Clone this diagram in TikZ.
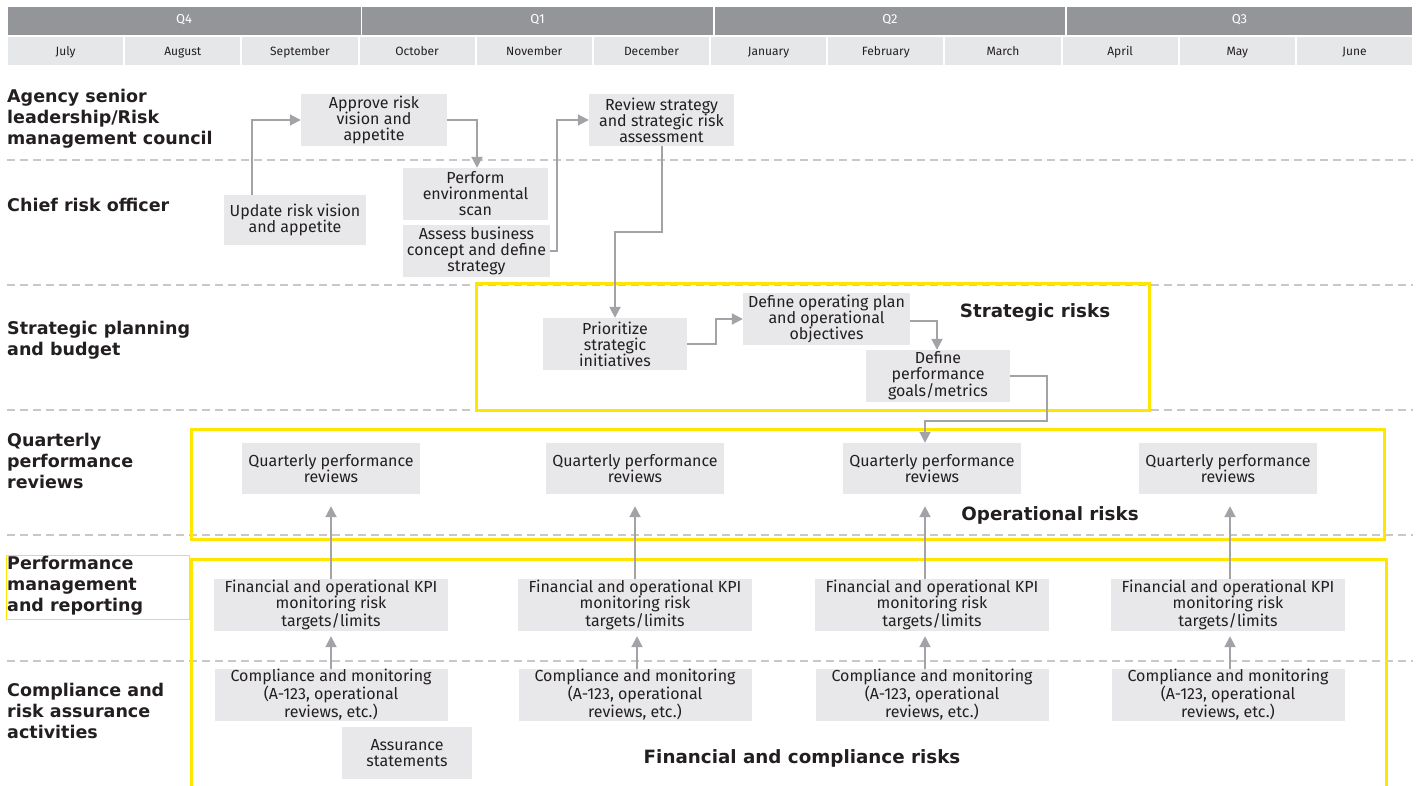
\documentclass[tikz,border=0pt]{standalone}
\usepackage{fontspec}
\setmainfont{Fira Sans}
\newfontfamily\lanefont{DejaVu Sans}
\usetikzlibrary{arrows.meta}
\definecolor{hdr}{HTML}{939598}
\definecolor{mon}{HTML}{E6E7E8}
\definecolor{boxg}{HTML}{E8E8EA}
\definecolor{txt}{HTML}{231F20}
\definecolor{arr}{HTML}{A2A3A6}
\definecolor{eyy}{HTML}{FFE600}
\definecolor{sepc}{HTML}{C8C8CA}
\begin{document}
\begin{tikzpicture}[x=1pt,y=-1pt,
  box/.style={fill=boxg, inner sep=0pt, align=center, text=txt, font=\fontsize{16}{16}\selectfont},
  lane/.style={anchor=west, align=left, text=txt, font=\lanefont\fontsize{17.5}{21}\selectfont\bfseries, inner sep=0pt},
  conn/.style={draw=arr, line width=2pt, -{Triangle[length=11pt,width=11pt]}},
  sepline/.style={draw=sepc, line width=1.5pt, dash pattern=on 8pt off 5pt},
  risk/.style={draw=eyy, line width=3pt},
  risklbl/.style={text=txt, font=\lanefont\fontsize{18.3}{22}\selectfont\bfseries, inner sep=0pt},
  qcell/.style={fill=hdr, text=white, font=\fontsize{13}{14}\selectfont, inner sep=0pt, minimum height=28, text height=8pt, text depth=3pt},
  mcell/.style={fill=mon, text=txt, font=\fontsize{12}{13}\selectfont, inner sep=0pt, minimum height=28, text height=12pt, text depth=3pt}]
\useasboundingbox (0,0) rectangle (1420,786);
\fill[white] (0,0) rectangle (1420,786);

% header
\node[qcell, minimum width=353] (q4) at (184,21) {Q4};
\node[qcell, minimum width=351] (q1) at (537.5,21) {Q1};
\node[qcell, minimum width=350] (q2) at (890,21) {Q2};
\node[qcell, minimum width=345] (q3) at (1239.5,21) {Q3};
\foreach \i/\m in {0/July,1/August,2/September,3/October,4/November,5/December,6/January,7/February,8/March,9/April,10/May,11/June}{
  \node[mcell, minimum width=115.2] (m\i) at ({7+117.17*(\i+0.5)},51) {\m};
}

% separators
\foreach \y in {160,285,410,535,661}{
  \draw[sepline] (7,\y) -- (1413,\y);
}

% lane labels
\node[lane] (l1) at (7,119) {Agency senior\\leadership/Risk\\management council};
\node[lane] (l2) at (7,205) {Chief risk officer};
\node[lane] (l3) at (7,340) {Strategic planning\\and budget};
\node[lane] (l4) at (7,461) {Quarterly\\performance\\reviews};
\node[draw=eyy, line width=1.2pt, anchor=north west, minimum width=183, minimum height=64, inner sep=0pt] (pmframe) at (6,555) {};
\node[lane] (l5) at (7,586) {Performance\\management\\and reporting};
\node[lane] (l6) at (7,711) {Compliance and\\risk assurance\\activities};

% risk areas
\draw[risk] (476,283) rectangle (1149,410);
\node[risklbl] (srl) at (1035,313) {Strategic risks};
\draw[risk] (191,429) rectangle (1384,539);
\node[risklbl] (orl) at (1050,515) {Operational risks};
\draw[risk] (191,800) -- (191,559) -- (1386,559) -- (1386,800);
\node[risklbl] (frl) at (802,758) {Financial and compliance risks};

% boxes
\node[box, minimum width=146, minimum height=52] (appr) at (374,120) {Approve risk\\vision and\\appetite};
\node[box, minimum width=142, minimum height=50] (upd) at (295,220) {Update risk vision\\and appetite};
\node[box, minimum width=145, minimum height=52] (scan) at (475.5,194) {Perform\\environmental\\scan};
\node[box, minimum width=147, minimum height=52] (assess) at (476.5,251) {Assess business\\concept and define\\strategy};
\node[box, minimum width=145, minimum height=52] (review) at (661.5,120) {Review strategy\\and strategic risk\\assessment};
\node[box, minimum width=144, minimum height=52] (prio) at (615,344) {Prioritize\\strategic\\initiatives};
\node[box, minimum width=167, minimum height=52] (defop) at (826.5,319) {Define operating plan\\and operational\\objectives};
\node[box, minimum width=144, minimum height=52] (defperf) at (938,376) {Define\\performance\\goals/metrics};

\foreach \n/\x in {1/331,2/635,3/932,4/1228}{
  \node[box, minimum width=178, minimum height=51] (qpr\n) at (\x,468.5) {Quarterly performance\\reviews};
  \node[box, minimum width=234, minimum height=52] (kpi\n) at (\x,605) {Financial and operational KPI\\monitoring risk\\targets/limits};
  \node[box, minimum width=233, minimum height=52] (comp\n) at (\x,695) {Compliance and monitoring\\(A-123, operational\\reviews, etc.)};
}
\node[box, minimum width=130, minimum height=52] (assur) at (407,753) {Assurance\\statements};

% connectors
\draw[conn] ([xshift=28pt]upd.north west) |- (appr.west);
\draw[conn] (appr.east) -| ([xshift=1.5pt]scan.north);
\draw[conn] (assess.east) -- ++(7,0) |- (review.west);
\draw[conn] (review.south) -- ++(0,86) -| (prio.north);
\draw[conn] (prio.east) -- ++(29,0) |- (defop.west);
\draw[conn] ([yshift=-2pt]defop.east) -| ([xshift=-1pt]defperf.north);
\coordinate (bend) at (1047,421);
\draw[conn] (defperf.east) -| (bend) -| ([xshift=-7pt]qpr3.north);

\draw[conn, shorten >=12pt] (kpi1.north) -- (qpr1.south);
\draw[conn, shorten >=12pt] (kpi2.north) -- (qpr2.south);
\draw[conn, shorten >=12pt] ([xshift=-7pt]kpi3.north) -- ([xshift=-7pt]qpr3.south);
\draw[conn, shorten >=12pt] ([xshift=2pt]kpi4.north) -- ([xshift=2pt]qpr4.south);
\draw[conn, shorten >=5pt] (comp1.north) -- (kpi1.south);
\draw[conn, shorten >=5pt] ([xshift=2pt]comp2.north) -- ([xshift=2pt]kpi2.south);
\draw[conn, shorten >=5pt] ([xshift=-7pt]comp3.north) -- ([xshift=-7pt]kpi3.south);
\draw[conn, shorten >=5pt] ([xshift=2pt]comp4.north) -- ([xshift=2pt]kpi4.south);
\end{tikzpicture}
\end{document}
